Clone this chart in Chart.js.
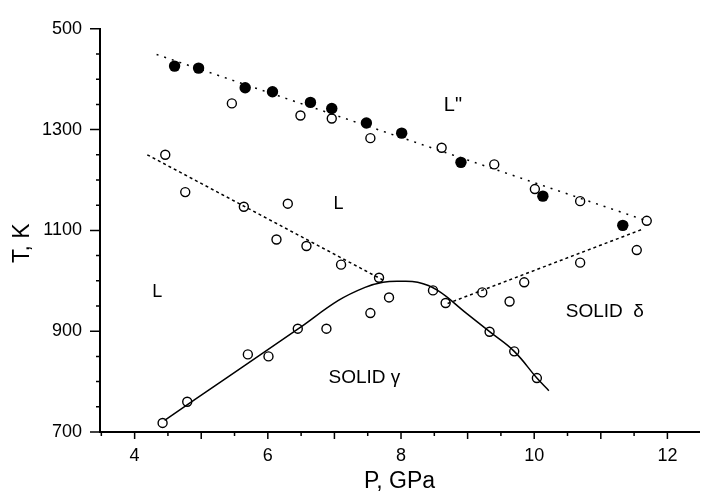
<!DOCTYPE html>
<html><head><meta charset="utf-8">
<script src="https://cdn.jsdelivr.net/npm/chart.js@4"></script>
<style>html,body{margin:0;padding:0;background:#fff}#wrap{width:705px;height:495px}</style>
</head><body><div id="wrap"><canvas id="c" width="705" height="495"></canvas></div>
<script>
// Filled circles (L'' melting)
const filledP = [4.60, 4.96, 5.66, 6.07, 6.64, 6.96, 7.48, 8.01, 8.90, 10.13, 11.33];
const filledT = [1426, 1422, 1383, 1375, 1354, 1342, 1313, 1293, 1235, 1168, 1110];
// Open circles along upper boundary
const openUpperP = [5.46, 6.49, 6.96, 7.54, 8.61, 9.40, 10.01, 10.69, 11.69];
const openUpperT = [1352, 1328, 1322, 1283, 1264, 1231, 1182, 1158, 1119];
// Open circles along L boundary
const openMidP = [4.46, 4.76, 5.64, 6.30, 6.13, 6.58, 7.10, 7.67];
const openMidT = [1250, 1176, 1147, 1153, 1082, 1069, 1032, 1006];
// Open circles around solid gamma curve
const openGammaP = [4.42, 4.79, 5.70, 6.01, 6.45, 6.88, 7.54, 7.82, 8.48, 8.67, 9.33, 9.70, 10.04];
const openGammaT = [718, 760, 854, 850, 905, 905, 936, 967, 981, 956, 899, 860, 807];
// Open circles along delta boundary
const openDeltaP = [9.22, 9.63, 9.85, 10.69, 11.54];
const openDeltaT = [977, 959, 997, 1036, 1061];
// Boundary lines
const upperLineP = [4.33, 11.69];
const upperLineT = [1449, 1119];
const midLineP = [4.19, 7.75];
const midLineT = [1250, 1000];
const deltaLineP = [8.70, 11.62];
const deltaLineT = [955, 1102];
const gammaCurveP = [4.45, 5.42, 6.46, 7.06, 7.46, 7.73, 7.96, 8.25, 8.55, 8.96, 9.33, 9.70, 10.04, 10.22];
const gammaCurveT = [723, 811, 905, 961, 987, 997, 999, 997, 981, 938, 899, 860, 807, 782];
// Axis ticks
const xTickValues = [4, 6, 8, 10, 12];
const xTickLabels = ['4', '6', '8', '10', '12'];
const yTickValues = [700, 900, 1100, 1300, 1500];
const yTickLabels = ['700', '900', '1100', '1300', '500'];
// Region labels
const regionLabels = ['L"', 'L', 'L', 'SOLID γ', 'SOLID  δ'];
const regionP = [8.78, 7.06, 4.34, 7.45, 11.06];
const regionT = [1348, 1153, 977, 807, 938];
const regionSize = [20, 18, 18, 19, 19];

const zip = (a, b) => a.map((v, i) => ({x: v, y: b[i]}));
const FONT = "'Liberation Sans', Arial, sans-serif";

const extrasPlugin = {
  id: 'extras',
  afterDraw(chart) {
    const ctx = chart.ctx, xs = chart.scales.x, ys = chart.scales.y, ca = chart.chartArea;
    ctx.save();
    ctx.strokeStyle = '#000';
    ctx.lineWidth = 1.5;
    ctx.beginPath();
    for (let k = 7; k <= 24; k++) {
      const v = k / 2;
      const px = xs.getPixelForValue(v);
      const len = (k % 2 === 0) ? 7 : 4;
      ctx.moveTo(px, ca.bottom); ctx.lineTo(px, ca.bottom + len);
    }
    for (let v = 700; v <= 1500; v += 50) {
      const py = ys.getPixelForValue(v);
      const len = yTickValues.includes(v) ? 10 : 4;
      ctx.moveTo(ca.left - len, py); ctx.lineTo(ca.left, py);
    }
    ctx.stroke();
    ctx.fillStyle = '#000';
    ctx.textAlign = 'center';
    ctx.textBaseline = 'middle';
    regionLabels.forEach((t, i) => {
      ctx.font = regionSize[i] + 'px ' + FONT;
      ctx.fillText(t, xs.getPixelForValue(regionP[i]), ys.getPixelForValue(regionT[i]));
    });
    ctx.restore();
  }
};

const lineDs = (P, T, dash) => ({
  data: zip(P, T), showLine: true, pointRadius: 0, borderColor: '#000',
  borderWidth: 1.5, borderDash: dash, fill: false
});
const openDs = (P, T) => ({
  data: zip(P, T), showLine: false, pointRadius: 4.5, pointBorderWidth: 1.4,
  pointBorderColor: '#000', pointBackgroundColor: '#fff'
});

new Chart(document.getElementById('c'), {
  type: 'scatter',
  data: {
    datasets: [
      lineDs(upperLineP, upperLineT, [2, 6]),
      lineDs(midLineP, midLineT, [3, 3]),
      lineDs(deltaLineP, deltaLineT, [3, 3]),
      Object.assign(lineDs(gammaCurveP, gammaCurveT, []), {tension: 0.4}),
      openDs(openUpperP, openUpperT),
      openDs(openMidP, openMidT),
      openDs(openGammaP, openGammaT),
      openDs(openDeltaP, openDeltaT),
      {data: zip(filledP, filledT), showLine: false, pointRadius: 5.7, pointBorderWidth: 0,
       pointBackgroundColor: '#000', pointBorderColor: '#000'}
    ]
  },
  options: {
    responsive: false,
    animation: false,
    devicePixelRatio: 1,
    layout: {padding: {top: 22, right: 0, left: 0, bottom: 0}},
    plugins: {legend: {display: false}, tooltip: {enabled: false}},
    scales: {
      x: {
        type: 'linear', min: 3.48, max: 12.476,
        afterBuildTicks: s => { s.ticks = xTickValues.map(v => ({value: v})); },
        afterFit: s => { s.height = 63; },
        grid: {display: true, drawOnChartArea: false, drawTicks: false},
        border: {display: true, color: '#000', width: 2},
        ticks: {color: '#000', font: {family: FONT, size: 18}, padding: 13, maxRotation: 0,
          callback: (v) => { const i = xTickValues.indexOf(v); return i >= 0 ? xTickLabels[i] : ''; }},
        title: {display: true, text: 'P, GPa', color: '#000', font: {family: FONT, size: 23}, padding: {top: 0, bottom: 0}}
      },
      y: {
        type: 'linear', min: 700, max: 1500,
        afterBuildTicks: s => { s.ticks = yTickValues.map(v => ({value: v})); },
        afterFit: s => { s.width = 100; },
        grid: {display: true, drawOnChartArea: false, drawTicks: false},
        border: {display: true, color: '#000', width: 2},
        ticks: {color: '#000', font: {family: FONT, size: 18}, padding: 18,
          callback: (v) => { const i = yTickValues.indexOf(v); return i >= 0 ? yTickLabels[i] : ''; }},
        title: {display: true, text: 'T, K    ', color: '#000', font: {family: FONT, size: 23}, padding: {top: 9, bottom: 0}}
      }
    }
  },
  plugins: [extrasPlugin]
});
</script>
</body></html>
